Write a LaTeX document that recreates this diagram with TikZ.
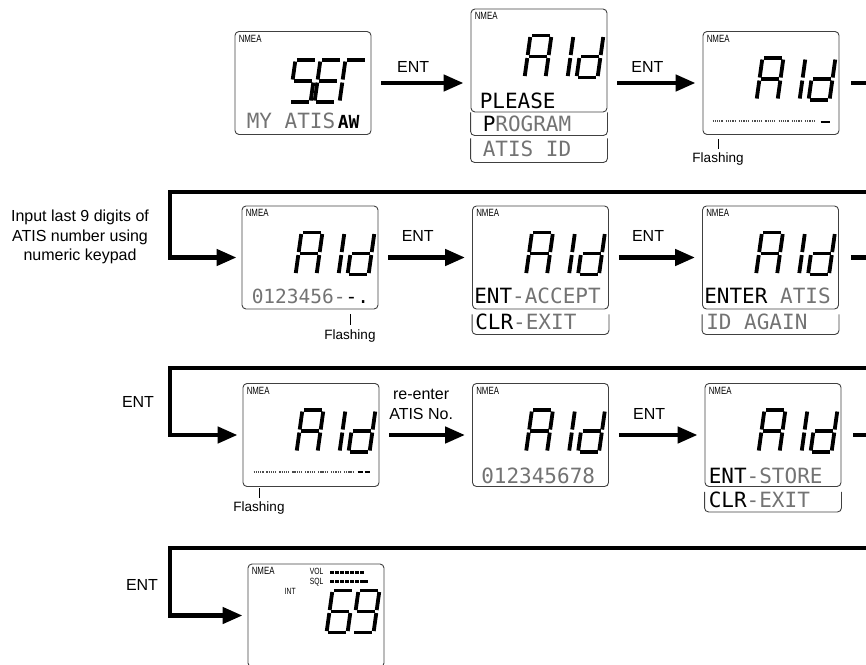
\documentclass[tikz,border=0pt]{standalone}
\usepackage{fontspec}
\setmainfont{Liberation Sans}
\newfontfamily\lcdfont{DejaVu Sans Mono}
\usepackage{graphicx}
\usetikzlibrary{arrows.meta}

\newcommand{\lcdon}[1]{\textcolor{black}{#1}}
\newcommand{\narrow}[1]{\scalebox{0.75}[1]{#1}}
% seven segment character, #1 = bottom left corner, #2 = lit segments
\newcommand{\segchar}[2]{%
  \begin{scope}[shift={#1}, xslant=0.14]
    \foreach \n/\xa/\ya/\xb/\yb in {a/1.5/-42/19.5/-42, b/21/-40.5/21/-22.5, c/21/-19.5/21/-1.5,
        d/1.5/0/19.5/0, e/0/-1.5/0/-19.5, f/0/-22.5/0/-40.5, g/1.5/-21/19.5/-21}
      {\coordinate (s\n0) at (\xa,\ya); \coordinate (s\n1) at (\xb,\yb);}
    \foreach \s in {#2} \draw[seg] (s\s0) -- (s\s1);
  \end{scope}}

\begin{document}
\begin{tikzpicture}[x=1pt, y=-1pt,
    lcd/.style={draw=black!75, line width=0.9pt, rounded corners=4pt, minimum width=136pt, minimum height=103pt, inner sep=0pt},
    strip/.style={draw=black!75, line width=0.9pt, rounded corners=4pt},
    seg/.style={line width=3.8pt},
    flow/.style={line width=4.5pt, -{Triangle[length=20pt, width=16pt]}, shorten <=10pt, shorten >=7pt},
    back/.style={line width=4.5pt, -{Triangle[length=20pt, width=16pt]}, shorten <=12pt, shorten >=5pt},
    lbl/.style={font=\fontsize{16}{19.5}\selectfont, align=center},
    flash/.style={font=\fontsize{13.5}{15}\selectfont, inner sep=1pt},
    lcdtext/.style={font=\lcdfont\fontsize{21}{21}\selectfont, text=black!55, anchor=base west, inner sep=0pt},
    tiny/.style={font=\fontsize{10.5}{11}\selectfont, anchor=base west, inner sep=0pt},
    tinier/.style={font=\fontsize{9}{9}\selectfont, anchor=base west, inner sep=0pt},
    dots/.style={line width=1.2pt, black!70, dash pattern=on 1.3pt off 0.9pt},
    cursor/.style={line width=2pt}
]

\useasboundingbox (0,0) rectangle (866,664);
\clip (0,0) rectangle (866,664);

% --- Displays ---
\node[lcd] (set) at (303,83) {};
\node[lcd] (please) at (539,60.5) {};
\node[lcd] (blank) at (771,83) {};
\node[lcd] (entry) at (310,257.5) {};
\node[lcd] (accept) at (540.5,257.5) {};
\node[lcd] (again) at (770.5,257.5) {};
\node[lcd] (blank2) at (311,435) {};
\node[lcd] (reentry) at (540.5,435) {};
\node[lcd] (store) at (773,435) {};
\node[lcd] (chan) at (316,615.5) {};

% --- Extra text lines under the displays ---
\draw[strip] (please.south west) |- ([yshift=-23pt]please.south east) -- (please.south east);
\draw[strip] ([yshift=-26pt]please.south west) |- ([yshift=-50pt]please.south east) -- ([yshift=-26pt]please.south east);
\foreach \d in {accept,again,store}
    \draw[strip] ([yshift=-5pt]\d.south west) |- ([yshift=-25pt]\d.south east) -- ([yshift=-5pt]\d.south east);

% --- NMEA mark ---
\foreach \d in {set,please,blank,entry,accept,again,blank2,reentry,store,chan}
    \node[tiny] at ([shift={(4,11)}]\d.north west) {\narrow{NMEA}};

% --- Big segment characters ---
\segchar{([shift={(55,71)}]set.north west)}{a,f,g,c,d}
\segchar{([shift={(80,71)}]set.north west)}{a,f,g,e,d}
\segchar{([shift={(105,71)}]set.north west)}{a,f,e}
\foreach \d in {please,blank,entry,accept,again,blank2,reentry,store}
{
    \segchar{([shift={(54,69)}]\d.north west)}{a,b,c,e,f,g}
    \segchar{([shift={(97,69)}]\d.north west)}{e,f}
    \segchar{([shift={(106,69)}]\d.north west)}{b,c,d,e,g}
}
\segchar{([shift={(79,69)}]chan.north west)}{a,f,g,e,d,c}
\segchar{([shift={(105,69)}]chan.north west)}{a,b,f,g,c,d}

% --- Dot matrix text ---
\node[lcdtext] at ([shift={(12,97)}]set.north west) {MY ATIS};
\node[lcdtext, text=black, font=\lcdfont\bfseries\fontsize{18}{18}\selectfont] at ([shift={(103,97)}]set.north west) {AW};
\node[lcdtext] at ([shift={(9,100)}]please.north west) {\lcdon{PLEASE}};
\node[lcdtext] at ([shift={(12,123)}]please.north west) {\lcdon{P}ROGRAM};
\node[lcdtext] at ([shift={(12,148)}]please.north west) {ATIS ID};
\node[lcdtext, font=\lcdfont\fontsize{19.5}{20}\selectfont] at ([shift={(10,98)}]entry.north west) {0123456-{}\lcdon{-.}};
\node[lcdtext] at ([shift={(2,98)}]accept.north west) {\lcdon{ENT}-ACCEPT};
\node[lcdtext] at ([shift={(3,124)}]accept.north west) {\lcdon{CLR}-EXIT};
\node[lcdtext] at ([shift={(2,98)}]again.north west) {\lcdon{ENTER} ATIS};
\node[lcdtext] at ([shift={(4,124)}]again.north west) {ID AGAIN};
\node[lcdtext] at ([shift={(9,100)}]reentry.north west) {012345678};
\node[lcdtext] at ([shift={(4,100)}]store.north west) {\lcdon{ENT}-STORE};
\node[lcdtext] at ([shift={(4,124)}]store.north west) {\lcdon{CLR}-EXIT};

% --- Empty digit places ---
\foreach \i in {0,...,7}
    \draw[dots] ([shift={(10+\i*13.2,90)}]blank.north west) -- ++(10.5,0);
\draw[cursor] ([shift={(118,91)}]blank.north west) -- ++(9,0);
\foreach \i in {0,...,7}
    \draw[dots] ([shift={(11+\i*12.9,89)}]blank2.north west) -- ++(10,0);
\draw[cursor] ([shift={(115,89)}]blank2.north west) -- ++(5,0);
\draw[cursor] ([shift={(122,89)}]blank2.north west) -- ++(5,0);

% --- Channel display ---
\node[tinier] at ([shift={(62,11)}]chan.north west) {\narrow{VOL}};
\node[tinier] at ([shift={(62,21)}]chan.north west) {\narrow{SQL}};
\node[tinier] at ([shift={(37,31)}]chan.north west) {\narrow{INT}};
\foreach \i in {0,...,6}
    \fill ([shift={(82+\i*5,7)}]chan.north west) rectangle ++(4,3);
\foreach \i in {0,...,5}
    \fill ([shift={(82+\i*5,16)}]chan.north west) rectangle ++(4,3);
\fill ([shift={(112,16)}]chan.north west) rectangle ++(8,3);

% --- Arrows between displays ---
\draw[flow] (set.east) -- (set.east -| please.west) node[lbl, pos=0.42, above=4.5pt] {ENT};
\draw[flow] (set.east -| please.east) -- (blank.west) node[lbl, pos=0.42, above=4.5pt] {ENT};
\draw[flow] (entry.east) -- (accept.west) node[lbl, pos=0.42, above=10pt] {ENT};
\draw[flow] (accept.east) -- (again.west) node[lbl, pos=0.42, above=10pt] {ENT};
\draw[flow] (blank2.east) -- (reentry.west) node[lbl, pos=0.45, above=10pt] {re-enter\\ATIS No.};
\draw[flow] (reentry.east) -- (store.west) node[lbl, pos=0.42, above=10pt] {ENT};

% --- Return paths to the next row ---
\coordinate (turn2) at (170,192);
\coordinate (turn3) at (170,368);
\coordinate (turn4) at (170,548);
\draw[back] (blank.east) -- ++(45,0) |- (turn2) |- (entry.west);
\draw[back] (again.east) -- ++(45,0) |- (turn3) |- (blank2.west);
\draw[back] (store.east) -- ++(45,0) |- (turn4) |- (chan.west);

% --- Labels ---
\node[lbl] (keypad) at (80,237) {Input last 9 digits of\\ATIS number using\\numeric keypad};
\node[lbl] (ent3) at (138,402) {ENT};
\node[lbl] (ent4) at (142,585) {ENT};

\node[flash] (fl1) at (718,159) {Flashing};
\draw[line width=0.8pt] ([yshift=3pt]fl1.north) -- ++(0,-10);
\node[flash] (fl2) at (350,336) {Flashing};
\draw[line width=0.8pt] ([yshift=4pt]fl2.north) -- ++(0,-11);
\node[flash] (fl3) at (259,508) {Flashing};
\draw[line width=0.8pt] ([yshift=3pt]fl3.north) -- ++(0,-10);

\end{tikzpicture}
\end{document}
